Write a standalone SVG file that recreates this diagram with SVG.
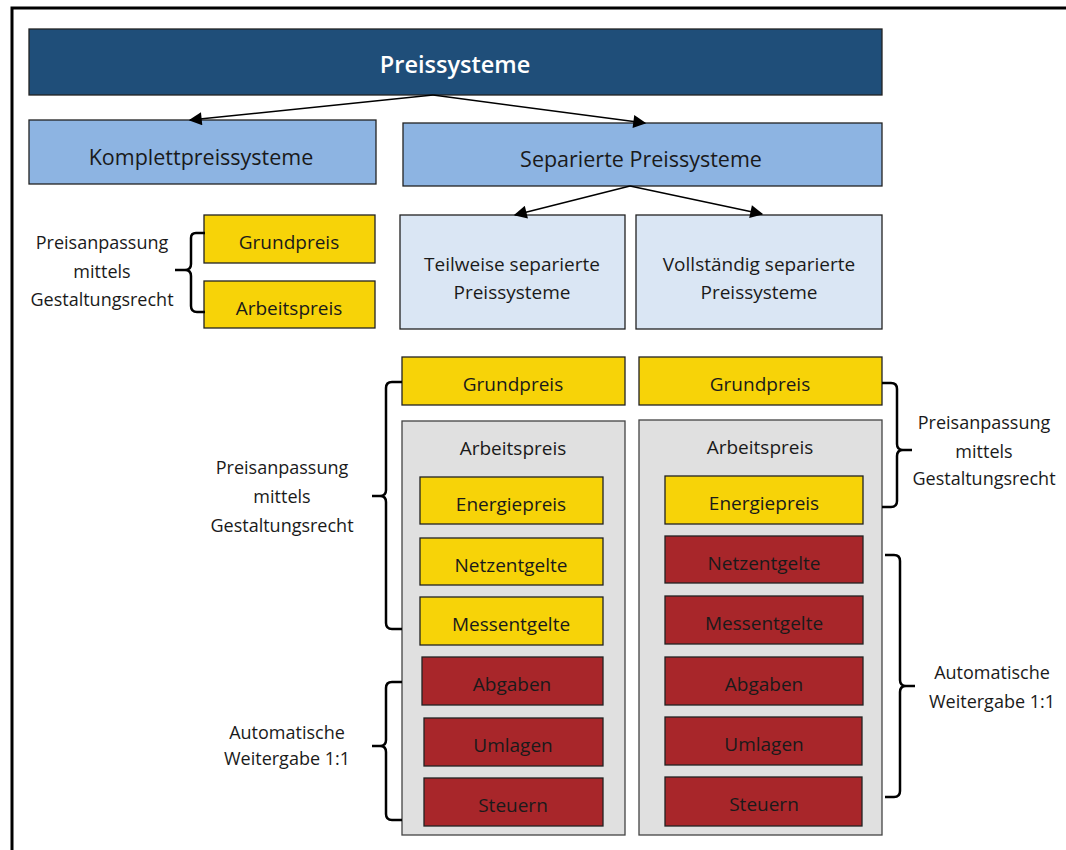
<svg xmlns="http://www.w3.org/2000/svg" width="1066" height="850" viewBox="0 0 1066 850">
<style>
text{font-family:"Open Sans","Noto Sans","Liberation Sans",sans-serif;text-anchor:middle;fill:#1a1a1a}
.box{stroke:#222;stroke-width:1.3}
.dark{fill:#1F4E79}
.mid{fill:#8DB4E2}
.light{fill:#DAE6F4}
.yel{fill:#F7D308}
.red{fill:#A8262A}
.gray{fill:#E0E0E0;stroke:#444;stroke-width:1.3}
.t22{font-size:21.5px}
.t19{font-size:19px}
.t18{font-size:18px}
.brace{fill:none;stroke:#000;stroke-width:2.5}
.conn{stroke:#000;stroke-width:1.5;fill:none}
</style>
<defs>
<marker id="ah" viewBox="0 0 10 10" refX="9" refY="5" markerWidth="15" markerHeight="13" markerUnits="userSpaceOnUse" orient="auto"><path d="M0,0 L10,5 L0,10 z" fill="#000"/></marker>
</defs>
<rect x="0" y="0" width="1066" height="850" fill="#fff"/>
<rect x="12" y="8" width="1100" height="900" fill="none" stroke="#000" stroke-width="3"/>

<g id="preissysteme"><rect class="box dark" x="29" y="29" width="853" height="66"/><text x="455" y="73" style="font-size:23.5px;font-weight:600;fill:#fff">Preissysteme</text></g>
<g id="komplett"><rect class="box mid" x="29" y="120" width="347" height="64"/><text class="t22" x="201" y="165">Komplettpreissysteme</text></g>
<g id="separiert"><rect class="box mid" x="403" y="123" width="479" height="63"/><text class="t22" x="641" y="167">Separierte Preissysteme</text></g>
<g id="teilweise"><rect class="box light" x="400" y="215" width="225" height="114"/><text class="t19" x="512" y="271">Teilweise separierte</text><text class="t19" x="512" y="299">Preissysteme</text></g>
<g id="vollstaendig"><rect class="box light" x="636" y="215" width="246" height="114"/><text class="t19" x="759" y="271">Vollständig separierte</text><text class="t19" x="759" y="299">Preissysteme</text></g>

<g id="k-grundpreis"><rect class="box yel" x="204" y="215" width="171" height="48"/><text class="t19" x="289" y="249">Grundpreis</text></g>
<g id="k-arbeitspreis"><rect class="box yel" x="204" y="281" width="171" height="47"/><text class="t19" x="289" y="315">Arbeitspreis</text></g>

<g id="t-grundpreis"><rect class="box yel" x="402" y="357" width="223" height="48"/><text class="t19" x="513" y="391">Grundpreis</text></g>
<g id="t-arbeitspreis"><rect class="gray" x="402" y="421" width="223" height="414"/><text class="t19" x="513" y="455">Arbeitspreis</text>
<g id="t-energie"><rect class="box yel" x="420" y="477" width="183" height="47"/><text class="t19" x="511" y="511">Energiepreis</text></g>
<g id="t-netz"><rect class="box yel" x="420" y="538" width="183" height="47"/><text class="t19" x="511" y="572">Netzentgelte</text></g>
<g id="t-mess"><rect class="box yel" x="420" y="597" width="183" height="48"/><text class="t19" x="511" y="631">Messentgelte</text></g>
<g id="t-abgaben"><rect class="box red" x="422" y="657" width="181" height="48"/><text class="t19" x="512" y="691">Abgaben</text></g>
<g id="t-umlagen"><rect class="box red" x="424" y="718" width="179" height="48"/><text class="t19" x="513" y="752">Umlagen</text></g>
<g id="t-steuern"><rect class="box red" x="424" y="778" width="179" height="48"/><text class="t19" x="513" y="812">Steuern</text></g>
</g>

<g id="v-grundpreis"><rect class="box yel" x="639" y="357" width="243" height="48"/><text class="t19" x="760" y="391">Grundpreis</text></g>
<g id="v-arbeitspreis"><rect class="gray" x="639" y="420" width="243" height="415"/><text class="t19" x="760" y="454">Arbeitspreis</text>
<g id="v-energie"><rect class="box yel" x="665" y="476" width="198" height="48"/><text class="t19" x="764" y="510">Energiepreis</text></g>
<g id="v-netz"><rect class="box red" x="665" y="536" width="198" height="47"/><text class="t19" x="764" y="570">Netzentgelte</text></g>
<g id="v-mess"><rect class="box red" x="665" y="596" width="198" height="48"/><text class="t19" x="764" y="630">Messentgelte</text></g>
<g id="v-abgaben"><rect class="box red" x="665" y="657" width="198" height="48"/><text class="t19" x="764" y="691">Abgaben</text></g>
<g id="v-umlagen"><rect class="box red" x="665" y="717" width="197" height="48"/><text class="t19" x="764" y="751">Umlagen</text></g>
<g id="v-steuern"><rect class="box red" x="665" y="777" width="197" height="49"/><text class="t19" x="764" y="811">Steuern</text></g>
</g>

<g id="labels">
<g id="lbl-k"><text class="t18" x="102" y="249">Preisanpassung</text><text class="t18" x="102" y="278">mittels</text><text class="t18" x="102" y="306">Gestaltungsrecht</text></g>
<g id="lbl-t1"><text class="t18" x="282" y="474">Preisanpassung</text><text class="t18" x="282" y="503">mittels</text><text class="t18" x="282" y="532">Gestaltungsrecht</text></g>
<g id="lbl-t2"><text class="t18" x="287" y="739">Automatische</text><text class="t18" x="287" y="765">Weitergabe 1:1</text></g>
<g id="lbl-v1"><text class="t18" x="984" y="429">Preisanpassung</text><text class="t18" x="984" y="458">mittels</text><text class="t18" x="984" y="485">Gestaltungsrecht</text></g>
<g id="lbl-v2"><text class="t18" x="992" y="679">Automatische</text><text class="t18" x="992" y="708">Weitergabe 1:1</text></g>
</g>

<g id="connectors">
<line class="conn" x1="433" y1="95" x2="190" y2="120" marker-end="url(#ah)"/>
<line class="conn" x1="433" y1="95" x2="645" y2="123" marker-end="url(#ah)"/>
<line class="conn" x1="630" y1="186" x2="515" y2="215" marker-end="url(#ah)"/>
<line class="conn" x1="630" y1="186" x2="762" y2="214" marker-end="url(#ah)"/>
<path class="brace" d="M205,233 H196 Q191,233 191,238 V264 Q191,270 185,270 H175 M185,270 Q191,270 191,276 V306 Q191,312 197,312 H205"/>
<path class="brace" d="M402,382 H392 Q386,382 386,388 V490 Q386,496 380,496 H372 M380,496 Q386,496 386,502 V623 Q386,629 392,629 H402"/>
<path class="brace" d="M402,682 H392 Q386,682 386,688 V740 Q386,746 380,746 H372 M380,746 Q386,746 386,752 V814 Q386,820 392,820 H402"/>
<path class="brace" d="M882,383 H891 Q897,383 897,389 V444 Q897,450 903,450 H912 M903,450 Q897,450 897,456 V501 Q897,507 891,507 H882"/>
<path class="brace" d="M885,555 H894 Q900,555 900,561 V680 Q900,686 906,686 H915 M906,686 Q900,686 900,692 V791 Q900,797 894,797 H885"/>
</g>
</svg>
